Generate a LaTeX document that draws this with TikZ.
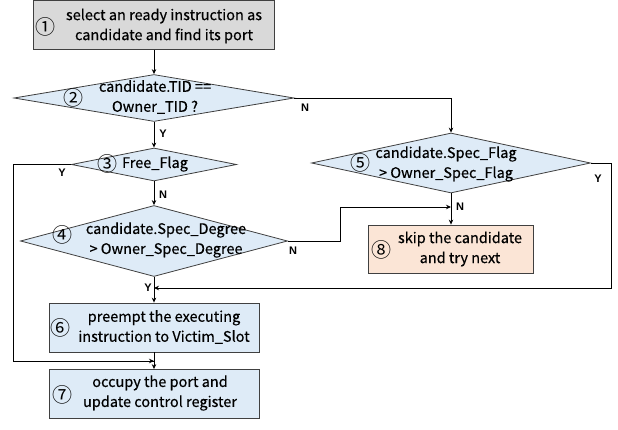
\documentclass[tikz,border=0pt]{standalone}
\usepackage{fontspec}
\setmainfont{Noto Sans CJK SC}
\newfontfamily\txtfont{Noto Sans CJK SC}[FakeBold=0.45]
\newfontfamily\numfont{Noto Sans CJK SC}
\newfontfamily\yn{Liberation Sans}
\usetikzlibrary{shapes.geometric,arrows.meta}
\definecolor{boxgray}{HTML}{D9D9D9}
\definecolor{boxblue}{HTML}{DEEBF7}
\definecolor{boxpeach}{HTML}{FBE5D6}
\definecolor{edgegray}{HTML}{404040}
\tikzset{
  x=1pt,y=1pt,
  shapebox/.style={draw=edgegray,line width=0.8pt,minimum width=#1,inner sep=0pt},
  procbox/.style={rectangle,shapebox=210pt,minimum height=49pt,fill=boxblue},
  decision/.style={diamond,draw=edgegray,line width=0.8pt,fill=boxblue,inner sep=0pt},
  txt/.style={align=center,font=\txtfont\fontsize{14.5}{20}\selectfont,inner sep=0pt},
  num/.style={font=\numfont\fontsize{20}{20}\selectfont,inner sep=0pt},
  ynlab/.style={font=\yn\bfseries\fontsize{11}{11}\selectfont,inner sep=0pt},
  flow/.style={draw=black,line width=0.8pt,-{Stealth[length=5pt,width=4.5pt]}},
  wire/.style={draw=black,line width=0.8pt},
}
\begin{document}
\begin{tikzpicture}
\useasboundingbox (0,0) rectangle (618,-430);
% boxes
\node[rectangle,shapebox=241pt,minimum height=49pt,fill=boxgray] (b1) at (154,-25) {};
\node[txt] (t1) at (164,-26) {select an ready instruction as\\candidate and find its port};
\node[num] (n1) at (45,-27) {①};

\node[decision,minimum width=280pt,minimum height=47pt] (d2) at (154,-98) {};
\node[txt] (t2) at (155,-97) {candidate.TID ==\\Owner\_TID ?};
\node[num] (n2) at (73,-98) {②};

\node[decision,minimum width=165pt,minimum height=33pt] (d3) at (154,-164.5) {};
\node[txt] (t3) at (155,-164) {Free\_Flag};
\node[num] (n3) at (107,-164) {③};

\node[decision,minimum width=267pt,minimum height=71pt] (d4) at (154,-241) {};
\node[txt] (t4) at (166,-240) {candidate.Spec\_Degree\\> Owner\_Spec\_Degree};
\node[num] (n4) at (62,-235) {④};

\node[decision,minimum width=279pt,minimum height=60pt] (d5) at (451,-163) {};
\node[txt] (t5) at (446,-164) {candidate.Spec\_Flag\\> Owner\_Spec\_Flag};
\node[num] (n5) at (360,-163) {⑤};

\node[rectangle,shapebox=165pt,minimum height=48pt,fill=boxpeach] (b8) at (451,-249) {};
\node[txt] (t8) at (460,-249) {skip the candidate\\and try next};
\node[num] (n8) at (381,-250) {⑧};

\node[procbox] (b6) at (154,-327.5) {};
\node[txt] (t6) at (164,-327) {preempt the executing\\instruction to Victim\_Slot};
\node[num] (n6) at (60,-328) {⑥};

\node[procbox] (b7) at (154,-394) {};
\node[txt] (t7) at (160,-393) {occupy the port and\\update control register};
\node[num] (n7) at (62,-395) {⑦};

% junction coordinates
\coordinate (j1) at (154,-361);
\coordinate (j2) at (451,-207);
\coordinate (j3) at (154,-288);
\coordinate (c3) at (13,-164.5);
\coordinate (c4) at (340,-241);
\coordinate (c5) at (611,-163);

% connectors
\path[flow] (b1) -- (d2);
\path[flow] (d2.east) -| (d5.north);
\path[flow] (d2) -- (d3);
\path[wire] (d3.west) -- (c3) |- (j1);
\path[flow] (c3 |- j1) -- (j1);
\path[flow] (d3) -- (d4);
\path[flow] (d4.east) -- (c4) |- (j2);
\path[flow] (d5) -- (b8);
\path[flow] (d5.east) -- (c5) |- (j3);
\path[flow] (d4) -- (b6);
\path[flow] (b6) -- (b7);

% Y/N labels
\node[ynlab] (l1) at (305,-108) {N};
\node[ynlab] (l2) at (163,-134) {Y};
\node[ynlab] (l3) at (62,-173) {Y};
\node[ynlab] (l4) at (163,-195) {N};
\node[ynlab] (l5) at (293,-251) {N};
\node[ynlab] (l6) at (148,-288) {Y};
\node[ynlab] (l7) at (460,-207) {N};
\node[ynlab] (l8) at (598,-179) {Y};
\end{tikzpicture}
\end{document}
